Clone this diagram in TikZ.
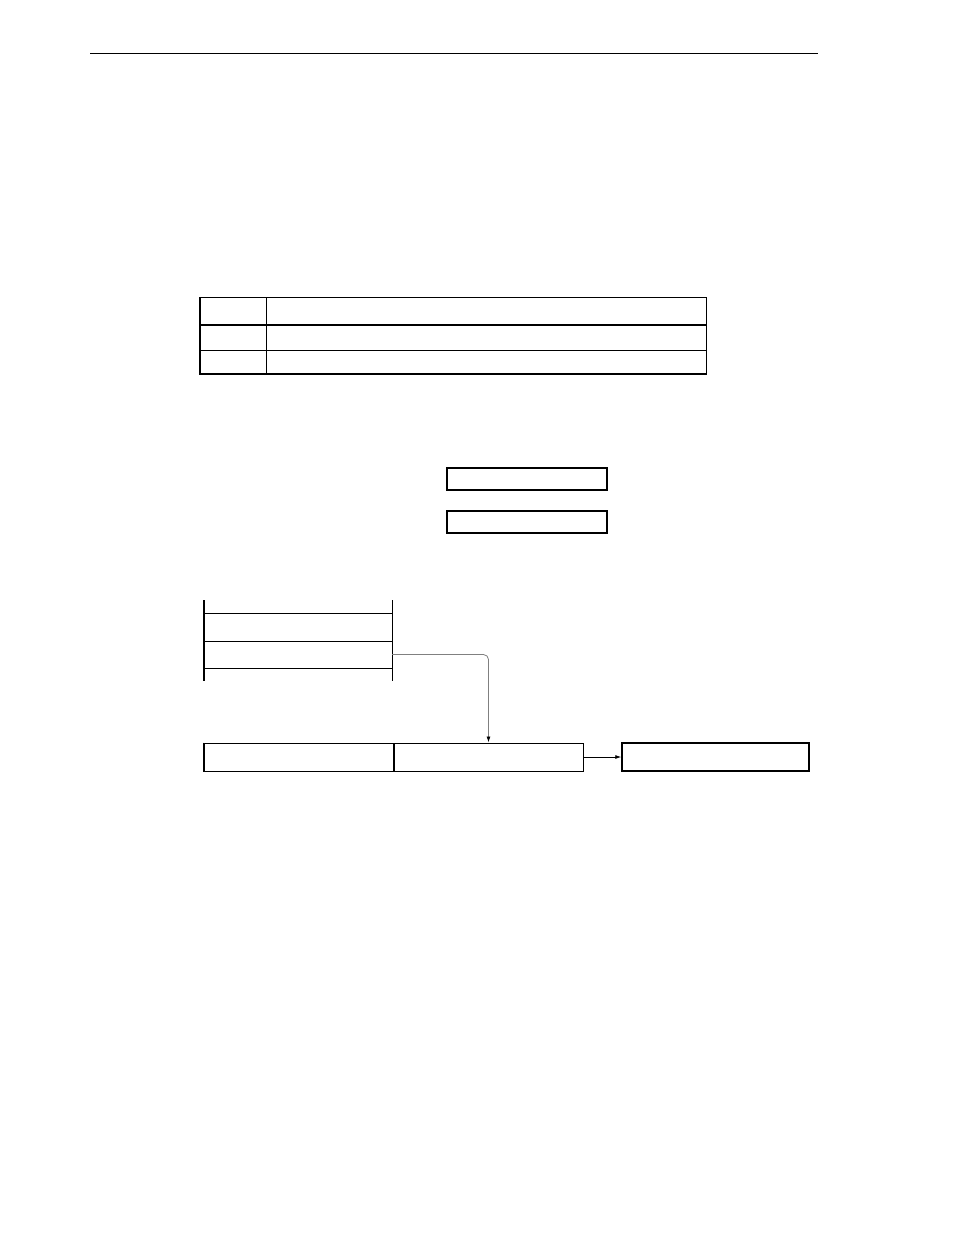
\documentclass[tikz,border=0pt]{standalone}
\usetikzlibrary{positioning}
\usetikzlibrary{arrows.meta}

\tikzset{cellbox/.style={draw,line width=1pt,inner sep=0pt,minimum height=28pt},
         regbox/.style={draw,line width=1.4pt,inner sep=0pt,minimum width=160pt,minimum height=22pt}}

\begin{document}
\begin{tikzpicture}[x=1pt,y=-1pt]
 \useasboundingbox (0,0) rectangle (954,1235);
 \draw[line width=0.6pt](90,53)--(818,53);
 % table
 \draw[line width=0.8pt](200,297) rectangle (706,374);
 \draw[line width=1.6pt](200,297)--(200,374)--(706,374);
 \draw[line width=1.3pt](200,325)--(706,325);
 \draw[line width=0.8pt](200,350)--(706,350);
 \draw[line width=0.8pt](266,297)--(266,374);
 % two boxes
 \node[regbox] (rega) at (527,479) {};
 \node[regbox] (regb) at (527,522) {};
 % stack
 \node[draw=none,inner sep=0pt,minimum width=188pt,minimum height=28pt] (stka) at (298,627) {};
 \node[draw=none,inner sep=0pt,minimum width=188pt,minimum height=27pt] (stkb) at (298,654.5) {};
 \draw[line width=1pt](204,613)--(392,613);
 \draw[line width=1pt](204,641)--(392,641);
 \draw[line width=1pt](204,668)--(392,668);
 \draw[line width=1.6pt](204,600)--(204,681);
 \draw[line width=0.9pt](392,600)--(392,681);
 % bottom boxes
 \node[cellbox,minimum width=189pt] (lcell) at (298.5,757) {};
 \node[cellbox,minimum width=189pt,right=0pt of lcell] (rcell) {};
 \draw[line width=1.6pt](lcell.south west)--(rcell.south east)--(rcell.north east);
 \draw[line width=1.4pt](lcell.north west)--(lcell.south west);
 \node[draw,line width=1.4pt,inner sep=0pt,minimum width=187pt,minimum height=28pt] (outb) at (715.5,757) {};
 \draw[gray,line width=0.8pt,rounded corners=5pt,-{Latex[length=6pt,width=4pt,black]}](stkb.east) -| (rcell.north);
 \draw[line width=0.8pt,-{Latex[length=6pt,width=4pt]}](rcell.east) -- (outb.west);
\end{tikzpicture}
\end{document}
